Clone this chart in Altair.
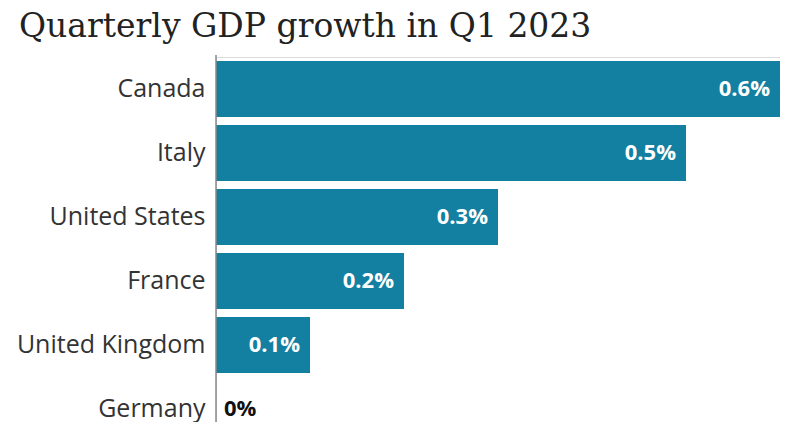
import altair as alt
import pandas as pd

countries = ["Canada", "Italy", "United States", "France", "United Kingdom", "Germany"]
growth = [0.6, 0.5, 0.3, 0.2, 0.1, 0.0]
labels = ["0.6%", "0.5%", "0.3%", "0.2%", "0.1%", "0%"]

df = pd.DataFrame({"country": countries, "growth": growth, "label": labels})

y_scale = alt.Scale(range=[4, 380], paddingInner=0.125, paddingOuter=0)
x_scale = alt.Scale(domain=[0, 0.6], nice=False, zero=True)

y_enc = alt.Y(
    "country:N",
    sort=countries,
    scale=y_scale,
    axis=alt.Axis(
        title=None, domain=False, ticks=False, grid=False,
        labelFont="Open Sans", labelFontSize=25, labelColor="#333333",
        labelPadding=11, labelLimit=400,
    ),
)

base = alt.Chart(df)

bars = base.mark_bar(color="#1380A1").encode(
    x=alt.X("growth:Q", scale=x_scale, axis=None),
    y=y_enc,
)

inside = base.transform_filter("datum.growth > 0").mark_text(
    align="right", baseline="middle", dx=-10, font="Open Sans",
    fontWeight="bold", fontSize=22, color="white",
).encode(
    x=alt.X("growth:Q", scale=x_scale, axis=None),
    y=alt.Y("country:N", sort=countries),
    text="label:N",
)

zero = base.transform_filter("datum.growth == 0").mark_text(
    align="left", baseline="middle", dx=8, font="Open Sans",
    fontWeight="bold", fontSize=22, color="#111111",
).encode(
    x=alt.X("growth:Q", scale=x_scale, axis=None),
    y=alt.Y("country:N", sort=countries),
    text="label:N",
)

axis_line = alt.Chart(pd.DataFrame({"zero": [0]})).mark_rule(
    color="#888888", strokeWidth=1.5
).encode(
    x=alt.X("zero:Q", scale=x_scale, axis=None),
    y=alt.value(-2),
    y2=alt.value(420),
)

chart = alt.layer(bars, inside, zero, axis_line).properties(
    width=564,
    height=365,
    padding={"left": 208, "top": 49, "right": 0, "bottom": 0},
    autosize=alt.AutoSizeParams(type="none"),
    title=alt.TitleParams(
        "Quarterly GDP growth in Q1 2023",
        anchor="start", frame="group", dx=-197,
        font="DejaVu Serif", fontSize=33, fontWeight="normal",
        color="#222222", offset=10,
    ),
).configure_view(strokeWidth=0, stroke="transparent").configure(background="white")

chart.save("out.html", embed_options={"renderer": "svg", "actions": False})
